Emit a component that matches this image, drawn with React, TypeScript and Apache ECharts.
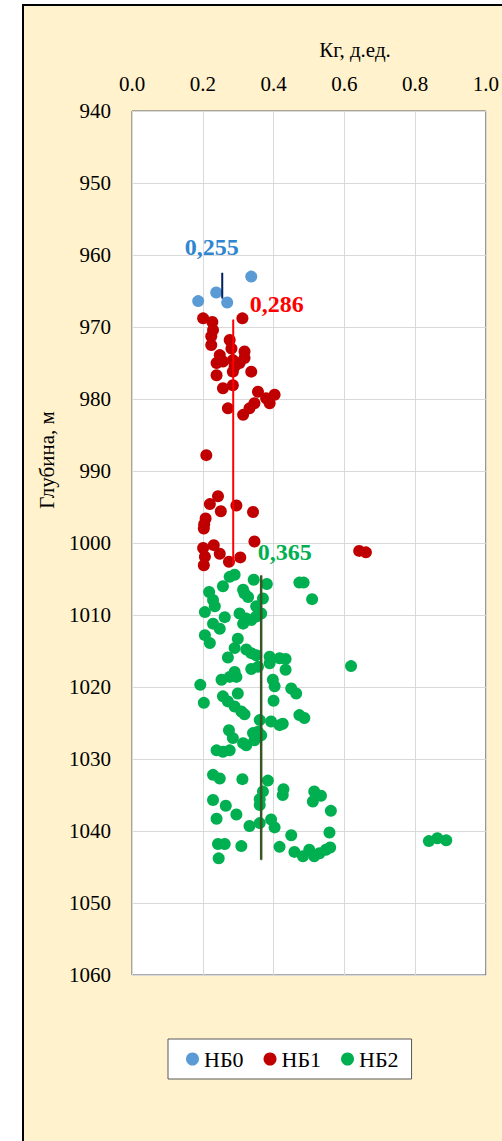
import { useEffect, useRef } from "react";
import * as echarts from "echarts";

const seriesNames = ["НБ0", "НБ1", "НБ2"];
const dotColors = ["#5B9BD5", "#C00000", "#00B050"];
const lineColors = ["#002060", "#FF0000", "#375623"];
const labelColors = ["#2E86D1", "#FF0000", "#00B050"];

const nb0: [number, number][] = [
  [0.187, 966.4], [0.238, 965.2], [0.269, 966.6], [0.337, 963.0],
];

const nb1: [number, number][] = [
  [0.201, 968.8], [0.227, 969.3], [0.312, 968.8], [0.229, 970.4], [0.224, 971.3],
  [0.224, 972.5], [0.276, 971.8], [0.281, 973.0], [0.318, 973.4], [0.318, 974.3],
  [0.248, 973.9], [0.239, 975.0], [0.257, 974.8], [0.285, 974.6], [0.290, 975.5],
  [0.304, 975.0], [0.239, 976.7], [0.285, 976.2], [0.337, 976.2], [0.257, 978.5],
  [0.285, 978.1], [0.356, 979.0], [0.403, 979.4], [0.379, 979.9], [0.346, 980.6],
  [0.389, 980.6], [0.332, 981.3], [0.314, 982.2], [0.271, 981.3],
  [0.210, 987.8], [0.243, 993.5], [0.220, 994.6], [0.251, 995.6], [0.295, 994.8],
  [0.342, 995.7], [0.208, 996.6], [0.204, 997.4], [0.203, 998.0], [0.346, 999.8],
  [0.201, 1000.7], [0.231, 1000.3], [0.206, 1001.9], [0.203, 1003.1], [0.248, 1001.5],
  [0.274, 1002.6], [0.306, 1002.0], [0.642, 1001.1], [0.661, 1001.3],
];

const nb2: [number, number][] = [
  [0.276, 1004.7], [0.290, 1004.4], [0.257, 1006.0], [0.218, 1006.8], [0.229, 1007.9],
  [0.314, 1006.5], [0.318, 1007.0], [0.328, 1007.5], [0.344, 1005.1], [0.381, 1005.7],
  [0.473, 1005.5], [0.485, 1005.5], [0.509, 1007.8], [0.370, 1007.7], [0.234, 1008.8],
  [0.206, 1009.6], [0.262, 1010.3], [0.229, 1011.2], [0.248, 1011.9], [0.206, 1012.8],
  [0.220, 1013.9], [0.304, 1009.8], [0.323, 1010.5], [0.337, 1010.7], [0.351, 1010.2],
  [0.365, 1009.8], [0.351, 1008.8], [0.314, 1011.2], [0.299, 1013.3], [0.290, 1014.6],
  [0.323, 1014.8], [0.337, 1015.3], [0.271, 1015.9], [0.351, 1015.6], [0.389, 1015.8],
  [0.417, 1016.0], [0.434, 1016.1], [0.337, 1017.5], [0.356, 1017.2], [0.389, 1016.7],
  [0.434, 1017.6], [0.619, 1017.1], [0.290, 1017.9], [0.295, 1018.6], [0.253, 1019.0],
  [0.276, 1018.6], [0.193, 1019.7], [0.398, 1019.0], [0.403, 1019.9], [0.450, 1020.2],
  [0.464, 1020.9], [0.299, 1020.9], [0.257, 1021.3], [0.203, 1022.2], [0.271, 1022.0],
  [0.290, 1022.7], [0.309, 1023.4], [0.318, 1023.8], [0.400, 1021.9], [0.473, 1023.9],
  [0.487, 1024.3], [0.361, 1024.6], [0.393, 1024.8], [0.417, 1025.3], [0.426, 1025.1],
  [0.274, 1026.0], [0.285, 1027.1], [0.342, 1026.4], [0.356, 1026.2], [0.365, 1026.7],
  [0.314, 1027.8], [0.323, 1028.1], [0.346, 1027.4], [0.239, 1028.8], [0.257, 1029.0],
  [0.276, 1028.8], [0.229, 1032.2], [0.248, 1032.7], [0.312, 1032.8], [0.384, 1033.0],
  [0.428, 1034.2], [0.426, 1035.0], [0.515, 1034.5], [0.534, 1035.1], [0.511, 1035.9],
  [0.370, 1034.5], [0.361, 1035.6], [0.361, 1036.4], [0.229, 1035.7], [0.265, 1036.5],
  [0.562, 1037.2], [0.239, 1038.3], [0.295, 1037.7], [0.393, 1038.4], [0.403, 1039.5],
  [0.332, 1039.3], [0.361, 1038.9], [0.450, 1040.6], [0.558, 1040.2], [0.243, 1041.8],
  [0.262, 1041.8], [0.309, 1042.1], [0.417, 1042.2], [0.459, 1042.9], [0.483, 1043.5],
  [0.501, 1042.6], [0.515, 1043.5], [0.530, 1043.1], [0.548, 1042.6], [0.560, 1042.3],
  [0.245, 1043.8], [0.839, 1041.4], [0.863, 1041.0], [0.888, 1041.3],
];

const meanKg = [0.255, 0.286, 0.365];
const meanTop = [962.5, 969.0, 1004.5];
const meanBottom = [966.0, 1003.0, 1044.0];

const xTitle = "Кг, д.ед.";
const yTitle = "Глубина, м";

const FONT = "Liberation Serif";

export default function App() {
  const ref = useRef<HTMLDivElement>(null);

  useEffect(() => {
    if (!ref.current) return;
    const chart = echarts.init(ref.current, null, { renderer: "svg" });
    const pointSets = [nb0, nb1, nb2];
    const labelPos: [number, number][] = [[-10, -26], [44, -15], [24, -23]];
    const lineWidths = [2, 2, 2.5];

    const dotSeries = pointSets.map((pts, i) => ({
      type: "scatter",
      name: seriesNames[i],
      data: pts,
      symbol: "circle",
      symbolSize: 12,
      itemStyle: { color: dotColors[i], opacity: 1 },
      z: 3,
    }));

    const lineSeries = meanKg.map((m, i) => ({
      type: "line",
      name: "mean" + i,
      data: [
        {
          value: [m, meanTop[i]],
          label: {
            show: true,
            formatter: m.toFixed(3).replace(".", ","),
            position: labelPos[i],
            align: "center",
            verticalAlign: "middle",
            color: labelColors[i],
            fontFamily: FONT,
            fontWeight: "bold",
            fontSize: 24,
          },
        },
        [m, meanBottom[i]],
      ],
      showSymbol: true,
      symbol: "circle",
      symbolSize: 1,
      lineStyle: { color: lineColors[i], width: lineWidths[i] },
      itemStyle: { color: lineColors[i] },
      emphasis: { disabled: true },
      z: 4,
    }));

    chart.setOption({
      animation: false,
      backgroundColor: "transparent",
      grid: {
        left: 132,
        top: 111,
        width: 355,
        height: 864,
        show: true,
        backgroundColor: "#FFFFFF",
        borderColor: "#595959",
        borderWidth: 1,
      },
      xAxis: {
        type: "value",
        position: "top",
        min: 0,
        max: 1,
        interval: 0.2,
        axisLine: { show: false },
        axisTick: { show: false },
        axisLabel: {
          margin: 17,
          fontSize: 21,
          fontFamily: FONT,
          color: "#000",
          formatter: (v: number) => v.toFixed(1),
        },
        splitLine: { show: true, lineStyle: { color: "#D9D9D9", width: 1 } },
      },
      yAxis: {
        type: "value",
        inverse: true,
        min: 940,
        max: 1060,
        interval: 10,
        axisLine: { show: false },
        axisTick: { show: false },
        axisLabel: {
          margin: 21,
          fontSize: 21,
          fontFamily: FONT,
          color: "#000",
          formatter: (v: number) => String(v),
        },
        splitLine: { show: true, lineStyle: { color: "#D9D9D9", width: 1 } },
      },
      legend: {
        data: seriesNames,
        left: 168,
        top: 1039,
        icon: "circle",
        itemWidth: 13,
        itemHeight: 13,
        itemGap: 20,
        padding: [9, 13, 9, 18],
        backgroundColor: "#FFFFFF",
        borderColor: "#595959",
        borderWidth: 1,
        textStyle: { fontSize: 22, fontFamily: FONT, color: "#000" },
      },
      graphic: [
        {
          type: "text",
          x: 355,
          y: 50,
          style: {
            text: xTitle,
            align: "center",
            verticalAlign: "middle",
            fontSize: 21,
            fontFamily: FONT,
            fill: "#000",
          },
        },
        {
          type: "text",
          x: 47,
          y: 460,
          rotation: Math.PI / 2,
          style: {
            text: yTitle,
            align: "center",
            verticalAlign: "middle",
            fontSize: 21,
            fontFamily: FONT,
            fill: "#000",
          },
        },
      ],
      series: [dotSeries[0], dotSeries[1], ...lineSeries, dotSeries[2]],
    });

    return () => chart.dispose();
  }, []);

  return (
    <div
      style={{
        position: "fixed",
        left: 0,
        top: 0,
        width: 502,
        height: 1141,
        overflow: "hidden",
        background: "#FFFFFF",
      }}
    >
      <div
        style={{
          position: "absolute",
          left: 22,
          top: 4,
          width: 700,
          height: 1400,
          background: "#FFF2CC",
          border: "2px solid #000",
        }}
      />
      <div
        ref={ref}
        style={{ position: "absolute", left: 0, top: 0, width: 502, height: 1141 }}
      />
    </div>
  );
}
